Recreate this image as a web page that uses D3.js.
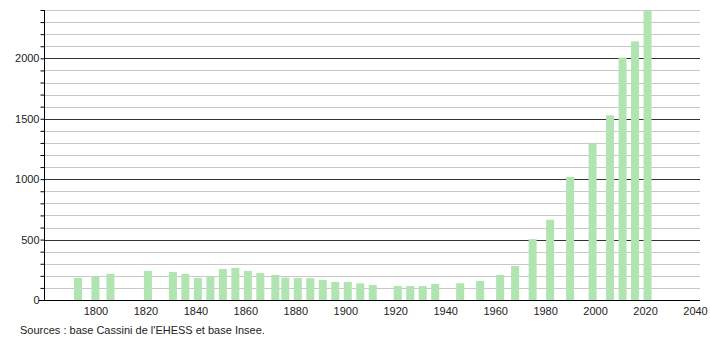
<!DOCTYPE html>
<html>
<head>
<meta charset="utf-8">
<script src="https://cdn.jsdelivr.net/npm/d3@7"></script>
<style>
	body { margin: 0; background: #fff; }
	text { font-family: "Liberation Sans", Arial, sans-serif; font-size: 11px; fill: #222; }
</style>
</head>
<body>
<div id="chart"></div>
<script>
// census years and population
var years = [1793, 1800, 1806, 1821, 1831, 1836, 1841, 1846, 1851, 1856, 1861, 1866, 1872, 1876, 1881, 1886, 1891, 1896, 1901, 1906, 1911, 1921, 1926, 1931, 1936, 1946, 1954, 1962, 1968, 1975, 1982, 1990, 1999, 2006, 2011, 2016, 2021];
var population = [183, 198, 216, 241, 232, 216, 183, 199, 257, 266, 241, 224, 208, 185, 183, 180, 166, 150, 150, 138, 125, 116, 116, 116, 133, 138, 158, 208, 282, 504, 664, 1019, 1301, 1528, 2007, 2140, 2394];
var xTicks = [1800, 1820, 1840, 1860, 1880, 1900, 1920, 1940, 1960, 1980, 2000, 2020, 2040];
var yTicks = [0, 500, 1000, 1500, 2000];
var sourceText = "Sources : base Cassini de l'EHESS et base Insee.";

var width = 710, height = 340;
var plotLeft = 44, plotRight = 700, plotTop = 10, plotBottom = 300;
var barWidth = 8;

var svg = d3.select('#chart').append('svg')
	.attr('width', width)
	.attr('height', height);

var x = d3.scaleLinear().domain([1779.4, 2042]).range([plotLeft, plotRight]);
var y = d3.scaleLinear().domain([0, 2400]).range([plotBottom, plotTop]);

// minor grid every 100
var g = svg.append('g');
g.selectAll('line.minor').data(d3.range(100, 2401, 100).filter(function(d) { return d % 500 != 0; }))
	.enter().append('line')
	.attr('x1', plotLeft).attr('x2', plotRight)
	.attr('y1', function(d) { return Math.round(y(d)) + 0.5; })
	.attr('y2', function(d) { return Math.round(y(d)) + 0.5; })
	.attr('stroke', '#c8c8c8');

g.selectAll('line.major').data(yTicks.slice(1))
	.enter().append('line')
	.attr('x1', plotLeft).attr('x2', plotRight)
	.attr('y1', function(d) { return Math.round(y(d)) + 0.5; })
	.attr('y2', function(d) { return Math.round(y(d)) + 0.5; })
	.attr('stroke', '#333');

// bars
svg.append('g').selectAll('rect').data(years)
	.enter().append('rect')
	.attr('x', function(d) { return x(d) - barWidth / 2; })
	.attr('y', function(d, i) { return y(population[i]); })
	.attr('width', barWidth)
	.attr('height', function(d, i) { return plotBottom - y(population[i]); })
	.attr('fill', '#b0e4b0');

// y axis
var yAxis = d3.axisLeft(y).tickValues(d3.range(0, 2401, 100)).tickSize(4)
	.tickFormat(function(d) { return d % 500 == 0 ? d : ''; });
var ya = svg.append('g').attr('transform', 'translate(' + (plotLeft + 0.5) + ',0)').call(yAxis);
ya.select('.domain').remove();
ya.selectAll('.tick line').attr('stroke', '#000');
ya.selectAll('.tick text').attr('x', -5).style('font-size', '11px').style('font-family', '"Liberation Sans", Arial, sans-serif');
svg.append('line').attr('x1', plotLeft + 0.5).attr('x2', plotLeft + 0.5).attr('y1', plotTop).attr('y2', plotBottom)
	.attr('stroke', '#000');

// x axis
var xAxis = d3.axisBottom(x).tickValues(xTicks).tickSize(0).tickFormat(d3.format('d'));
var xa = svg.append('g').attr('transform', 'translate(0,' + (plotBottom + 0.5) + ')').call(xAxis);
xa.select('.domain').remove();
xa.selectAll('.tick text').attr('y', 7).style('font-size', '11px').style('font-family', '"Liberation Sans", Arial, sans-serif');
svg.append('line').attr('x1', 39).attr('x2', plotRight).attr('y1', plotBottom + 0.5).attr('y2', plotBottom + 0.5)
	.attr('stroke', '#000');

svg.append('text')
	.attr('x', 20)
	.attr('y', 334)
	.text(sourceText);
</script>
</body>
</html>
